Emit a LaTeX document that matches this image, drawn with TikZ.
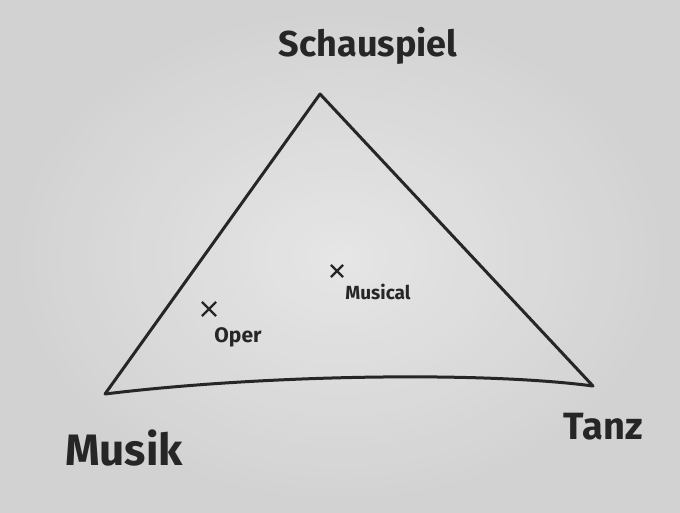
\documentclass[tikz,border=0pt]{standalone}
\usepackage{fontspec}
\setmainfont{Fira Sans}
\usetikzlibrary{shapes.misc}
\definecolor{ink}{HTML}{262626}
\definecolor{paperin}{HTML}{E6E6E6}
\definecolor{paperout}{HTML}{CDCDCD}
\tikzset{
  stroke/.style={draw=ink, line width=3pt, line cap=round, line join=round},
  lbl/.style={text=ink, inner sep=0pt, font=\bfseries},
  xmark/.style={cross out, draw=ink, line width=2.2pt, inner sep=0pt, minimum size=#1},
}
\begin{document}
\begin{tikzpicture}[x=1pt,y=-1pt]
  \fill[paperin] (0,0) rectangle (680,513);
  \shade[inner color=paperin, outer color=paperout, opacity=0.8] (0,0) rectangle (680,513);
  \useasboundingbox (0,0) rectangle (680,513);
  \coordinate (S) at (320,94);
  \coordinate (M) at (105,394);
  \coordinate (T) at (593,386);
  \draw[stroke] (M) -- (S) -- (T) .. controls (480,371) and (260,375) .. (M);
  \node[lbl, font=\bfseries\fontsize{36}{38}\selectfont] (schauspiel) at (368,46) {Schauspiel};
  \node[lbl, font=\bfseries\fontsize{44}{46}\selectfont] (musik) at (124,448) {Musik};
  \node[lbl, font=\bfseries\fontsize{38}{40}\selectfont] (tanz) at (603,427) {Tanz};
  \node[xmark=12pt] (xoper) at (209,309) {};
  \node[lbl, font=\bfseries\fontsize{21}{23}\selectfont] (oper) at (238,337) {Oper};
  \node[xmark=10pt] (xmusical) at (337,271) {};
  \node[lbl, font=\bfseries\fontsize{19}{21}\selectfont] (musical) at (378,292) {Musical};
\end{tikzpicture}
\end{document}
